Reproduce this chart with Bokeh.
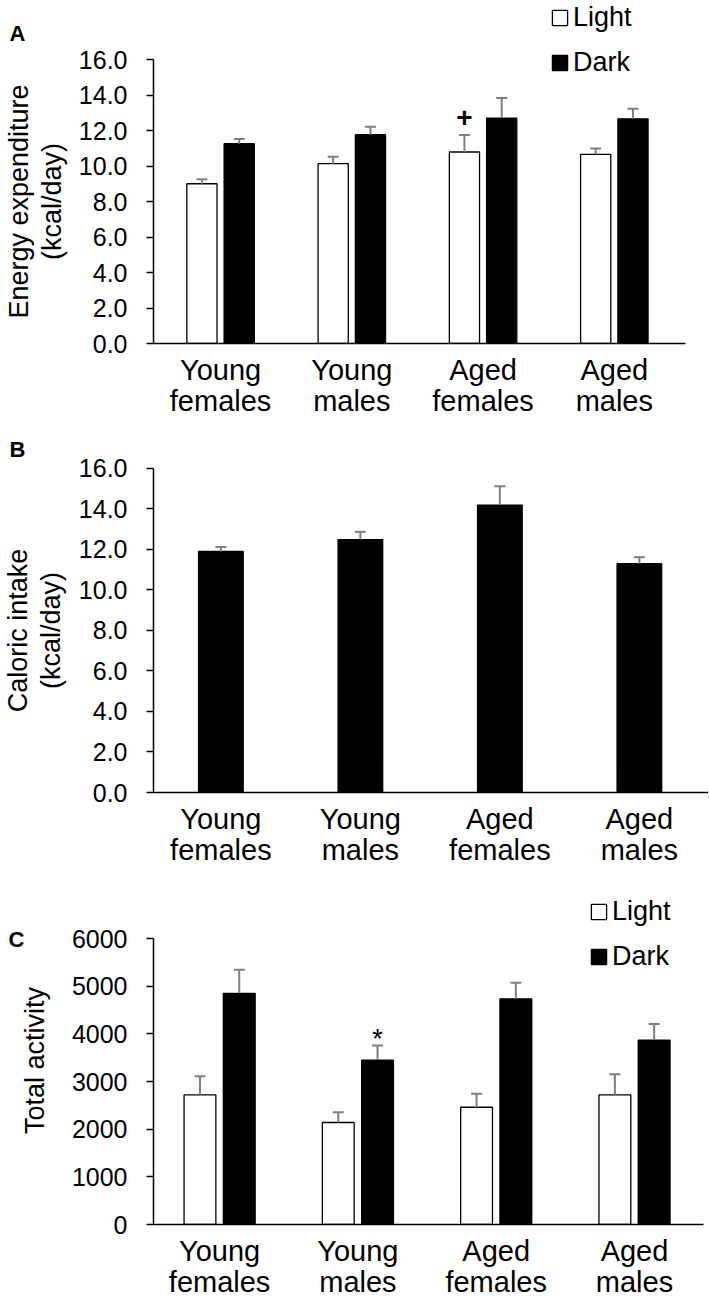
from bokeh.plotting import figure
from bokeh.models import (ColumnDataSource, Range1d, Whisker, TeeHead, Legend, LegendItem,
                          NumeralTickFormatter, SingleIntervalTicker, FixedTicker, LinearAxis)
from bokeh.layouts import column
from bokeh.embed import file_html
from bokeh.resources import INLINE
from bokeh.core.properties import value

# ---------------- data ----------------
groups = ["Young females", "Young males", "Aged females", "Aged males"]
label_line1 = ["Young", "Young", "Aged", "Aged"]
label_line2 = ["females", "males", "females", "males"]
series_names = ["Light", "Dark"]

# A: energy expenditure (kcal/day)
ee_light = [9.00, 10.13, 10.79, 10.66]
ee_light_sem = [0.25, 0.39, 0.95, 0.32]
ee_dark = [11.26, 11.76, 12.70, 12.66]
ee_dark_sem = [0.26, 0.45, 1.13, 0.57]
ee_mark_group = "Aged females"
ee_mark_text = "+"

# B: caloric intake (kcal/day)
ci_value = [11.89, 12.48, 14.18, 11.29]
ci_sem = [0.22, 0.38, 0.93, 0.32]

# C: total activity
act_light = [2720, 2140, 2460, 2720]
act_light_sem = [390, 215, 285, 430]
act_dark = [4850, 3450, 4735, 3870]
act_dark_sem = [495, 305, 335, 335]
act_mark_group = "Young males"
act_mark_text = "*"

# ---------------- style / layout ----------------
FONT = "Liberation Sans"
ERR_COLOR = "#7f7f7f"
OFF = 0.142
BAR_W = 0.23
FIG_W = 708
LEFT = 153
centers = [i + 0.5 for i in range(len(groups))]


def text_axis(p, y, text, standoff, size="27px", orientation="horizontal", bold=False):
    """An axis with no line and no ticks that carries a single text as its tick label."""
    ax = LinearAxis(ticker=FixedTicker(ticks=[y]), major_label_overrides={y: text},
                    axis_line_color=None, major_tick_line_color=None, minor_tick_line_color=None,
                    major_tick_out=0, major_tick_in=0, major_label_standoff=standoff,
                    major_label_orientation=orientation, major_label_text_font=FONT,
                    major_label_text_font_size=size, major_label_text_color="black",
                    major_label_text_font_style="bold" if bold else "normal")
    p.add_layout(ax, "left")


def base_figure(height, bottom, y_max, y_top_px, step, fmt, spacing_px, x_start, axis_end):
    frame_h = height - bottom
    frame_w = FIG_W - LEFT
    y_end = y_max * frame_h / (frame_h - y_top_px)
    x_end = x_start + frame_w / spacing_px
    p = figure(x_range=Range1d(x_start, x_end), y_range=Range1d(0, y_end),
               width=FIG_W, height=height, output_backend="svg", toolbar_location=None,
               min_border_left=LEFT, min_border_right=0, min_border_top=0,
               min_border_bottom=bottom)
    p.outline_line_color = None
    p.background_fill_color = "white"
    p.border_fill_color = "white"
    p.xgrid.visible = False
    p.ygrid.visible = False

    yax = p.yaxis[0]
    yax.bounds = (0, y_max)
    yax.ticker = SingleIntervalTicker(interval=step, num_minor_ticks=0)
    yax.formatter = NumeralTickFormatter(format=fmt)
    yax.axis_line_color = "black"
    yax.axis_line_width = 1.5
    yax.major_tick_line_color = "black"
    yax.major_tick_line_width = 1.5
    yax.major_tick_out = 7
    yax.major_tick_in = 0
    yax.minor_tick_line_color = None
    yax.major_label_text_font = FONT
    yax.major_label_text_font_size = "25px"
    yax.major_label_text_color = "black"
    yax.major_label_standoff = 19

    xax = p.xaxis[0]
    xax.bounds = (x_start, axis_end)
    xax.ticker = FixedTicker(ticks=centers)
    xax.major_label_overrides = dict(zip(centers, label_line1))
    xax.axis_line_color = "black"
    xax.axis_line_width = 1.5
    xax.major_tick_line_color = None
    xax.major_tick_out = 0
    xax.major_tick_in = 0
    xax.minor_tick_line_color = None
    xax.major_label_text_font = FONT
    xax.major_label_text_font_size = "29px"
    xax.major_label_text_color = "black"
    xax.major_label_standoff = 10

    ax2 = LinearAxis(ticker=FixedTicker(ticks=centers),
                     major_label_overrides=dict(zip(centers, label_line2)),
                     axis_line_color=None, major_tick_line_color=None,
                     minor_tick_line_color=None, major_tick_out=0, major_tick_in=0,
                     major_label_standoff=-4, major_label_text_font=FONT,
                     major_label_text_font_size="29px", major_label_text_color="black")
    p.add_layout(ax2, "below")
    return p


def add_whisker(p, src, xcol, low, up):
    p.add_layout(Whisker(source=src, base=xcol, lower=low, upper=up,
                         line_color=ERR_COLOR, line_width=2,
                         upper_head=TeeHead(size=11, line_color=ERR_COLOR, line_width=2),
                         lower_head=None, level="glyph"))


def add_legend(p, renderers, loc):
    leg = Legend(items=[LegendItem(label=n, renderers=[r]) for n, r in zip(series_names, renderers)],
                 location=loc, orientation="vertical",
                 glyph_width=19, glyph_height=19, label_standoff=4, spacing=14,
                 padding=0, margin=0, border_line_color=None, background_fill_alpha=0,
                 label_text_font=FONT, label_text_font_size="27px", label_text_color="black")
    p.add_layout(leg)


def paired_panel(p, light, light_sem, dark, dark_sem):
    src = ColumnDataSource(dict(
        xl=[c - OFF for c in centers], xd=[c + OFF for c in centers],
        light=light, dark=dark,
        light_up=[v + e for v, e in zip(light, light_sem)],
        dark_up=[v + e for v, e in zip(dark, dark_sem)]))
    rl = p.vbar(x="xl", top="light", width=BAR_W, source=src,
                fill_color="white", line_color="black", line_width=1.3)
    rd = p.vbar(x="xd", top="dark", width=BAR_W, source=src,
                fill_color="black", line_color="black", line_width=1.3)
    add_whisker(p, src, "xl", "light", "light_up")
    add_whisker(p, src, "xd", "dark", "dark_up")
    return rl, rd


# ---------------- Panel A ----------------
pA = base_figure(430, 87, 16, 59, 2, "0.0", 131.25, -0.011, 4.04)
rlA, rdA = paired_panel(pA, ee_light, ee_light_sem, ee_dark, ee_dark_sem)
iA = groups.index(ee_mark_group)
markA = ColumnDataSource(dict(x=[centers[iA] - OFF],
                              y=[ee_light[iA] + ee_light_sem[iA] + 1.0], t=[ee_mark_text]))
pA.text(x="x", y="y", text="t", source=markA, text_align="center", text_baseline="middle",
        text_font=value(FONT), text_font_size="28px", text_font_style="bold", text_color="black")
add_legend(pA, [rlA, rdA], (397, 265))
text_axis(pA, 8.0, "(kcal/day)", 9, orientation="vertical")
text_axis(pA, 8.0, "Energy expenditure", 0, orientation="vertical")
text_axis(pA, 17.49, "A", -25, size="22px", bold=True)

# ---------------- Panel B ----------------
pB = base_figure(438, 76, 16, 37.7, 2, "0.0", 139.5, 0.017, 4.0)
srcB = ColumnDataSource(dict(x=centers, v=ci_value,
                             up=[v + e for v, e in zip(ci_value, ci_sem)]))
pB.vbar(x="x", top="v", width=0.32, source=srcB,
        fill_color="black", line_color="black", line_width=1.3)
add_whisker(pB, srcB, "x", "v", "up")
text_axis(pB, 7.99, "(kcal/day)", 9, orientation="vertical")
text_axis(pB, 7.99, "Caloric intake", 0, orientation="vertical")
text_axis(pB, 16.9, "B", -25, size="22px", bold=True)

# ---------------- Panel C ----------------
pC = base_figure(435, 79, 6000, 70, 1000, "0", 138.3, 0.022, 4.0)
rlC, rdC = paired_panel(pC, act_light, act_light_sem, act_dark, act_dark_sem)
iC = groups.index(act_mark_group)
markC = ColumnDataSource(dict(x=[centers[iC] + OFF],
                              y=[act_dark[iC] + act_dark_sem[iC] + 140], t=[act_mark_text]))
pC.text(x="x", y="y", text="t", source=markC, text_align="center", text_baseline="middle",
        text_font=value(FONT), text_font_size="27px", text_color="black")
add_legend(pC, [rlC, rdC], (436, 252))
text_axis(pC, 3441, "Total activity", 18, orientation="vertical")
text_axis(pC, 5969, "C", -7, size="22px", bold=True)

layout = column(pA, pB, pC, spacing=0)
open("out.html", "w").write(file_html(layout, INLINE))
